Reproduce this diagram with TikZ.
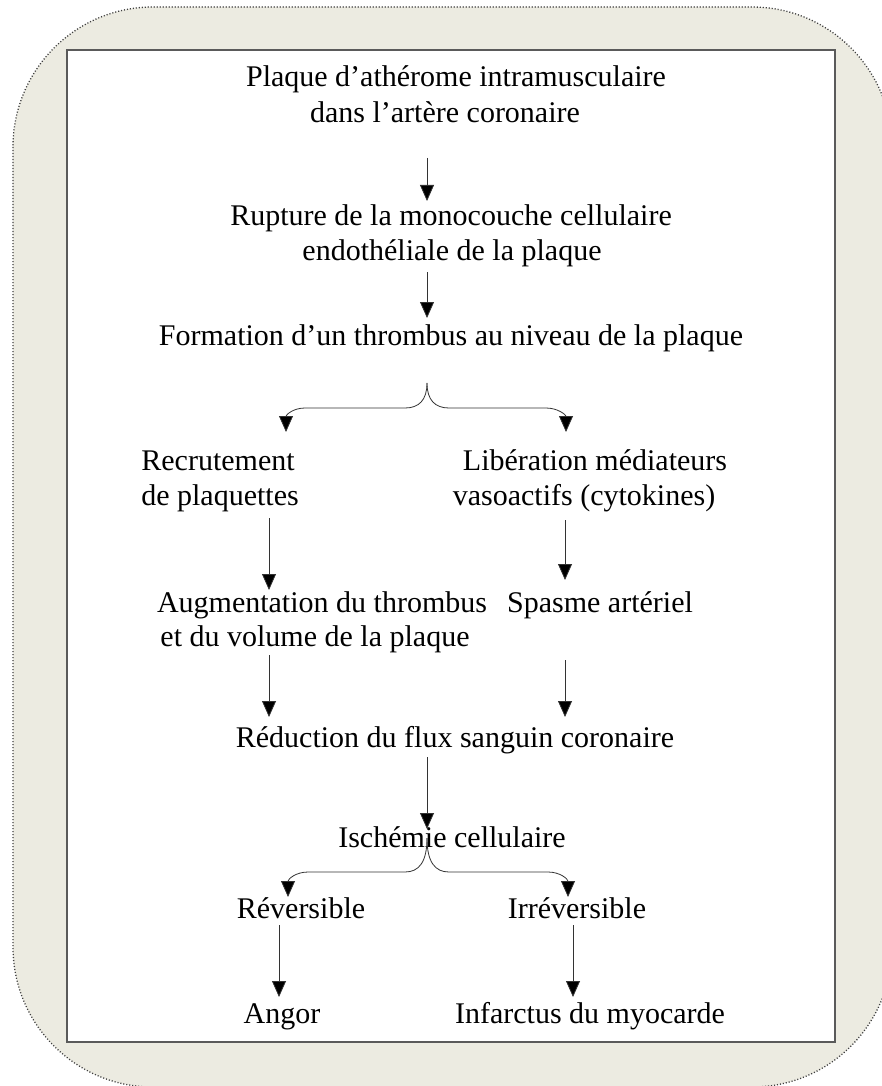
\documentclass[tikz,border=0pt]{standalone}
\usepackage{fontspec}
\setmainfont{Liberation Serif}
\usetikzlibrary{arrows.meta}
\definecolor{panel}{HTML}{ECEBE1}
\definecolor{framegray}{HTML}{5A5A5A}
\begin{document}
\begin{tikzpicture}[x=1pt,y=-1pt,
  txt/.style={anchor=base,inner sep=0pt,font=\fontsize{30}{35.5}\selectfont},
  arr/.style={draw=black!80,line width=0.8pt,-{Triangle[width=14pt,length=16pt,fill=black]}}]
\useasboundingbox (0,0) rectangle (882,1086);
% outer panel and inner frame
\begin{scope}
\clip (0,0) rectangle (882,1086);
\draw[fill=panel,draw=black!75,line width=1.3pt,dash pattern=on 1.1pt off 1.9pt,rounded corners=140pt]
  (13,7) rectangle (892,1087);
\end{scope}
\draw[fill=white,draw=framegray,line width=1.8pt] (67,50) rectangle (835,1042);

% text lines
\node[txt] (plaqueA) at (456,87) {Plaque d’athérome intramusculaire};
\node[txt] (plaqueB) at (445,123) {dans l’artère coronaire};
\node[txt] (ruptA) at (451,225) {Rupture de la monocouche cellulaire};
\node[txt] (ruptB) at (452,260) {endothéliale de la plaque};
\node[txt] (form) at (451,345) {Formation d’un thrombus au niveau de la plaque};
\node[txt] (recA) at (218,470) {Recrutement};
\node[txt] (recB) at (220,505) {de plaquettes};
\node[txt] (libA) at (595,470) {Libération médiateurs};
\node[txt] (libB) at (584,505) {vasoactifs (cytokines)};
\node[txt] (augA) at (322,612) {Augmentation du thrombus};
\node[txt] (augB) at (315,646) {et du volume de la plaque};
\node[txt] (spasme) at (600,612) {Spasme artériel};
\node[txt] (reduc) at (455,747) {Réduction du flux sanguin coronaire};
\node[txt] (isch) at (452,847) {Ischémie cellulaire};
\node[txt] (rev) at (301,918) {Réversible};
\node[txt] (irr) at (577,918) {Irréversible};
\node[txt] (angor) at (282,1023) {Angor};
\node[txt] (infarct) at (590,1023) {Infarctus du myocarde};

% connector ends
\coordinate (p1s) at (427,158); \coordinate (p1e) at (427,201);
\coordinate (p2s) at (427,272); \coordinate (p2e) at (427,318);
\coordinate (b1) at (427,383);
\coordinate (b1l) at (286,432); \coordinate (b1r) at (566,432);
\coordinate (p3s) at (269,518); \coordinate (p3e) at (269,590);
\coordinate (p4s) at (565,520); \coordinate (p4e) at (565,580);
\coordinate (p5s) at (269,655); \coordinate (p5e) at (269,717);
\coordinate (p6s) at (565,660); \coordinate (p6e) at (565,717);
\coordinate (p7s) at (427,757); \coordinate (p7e) at (427,829);
\coordinate (b2) at (427,838);
\coordinate (b2l) at (288,897); \coordinate (b2r) at (568,897);
\coordinate (p8s) at (279,925); \coordinate (p8e) at (279,997);
\coordinate (p9s) at (573,925); \coordinate (p9e) at (573,997);

% straight links
\draw[arr] (p1s) -- (p1e);
\draw[arr] (p2s) -- (p2e);
\draw[arr] (p3s) -- (p3e);
\draw[arr] (p4s) -- (p4e);
\draw[arr] (p5s) -- (p5e);
\draw[arr] (p6s) -- (p6e);
\draw[arr] (p7s) -- (p7e);
\draw[arr] (p8s) -- (p8e);
\draw[arr] (p9s) -- (p9e);

% forks
\draw[arr] (b1) .. controls (427,400) and (419,408) .. (405,408) -- (305,408)
  .. controls (293,408) and (286,415) .. (b1l);
\draw[arr] (b1) .. controls (427,400) and (435,408) .. (449,408) -- (546,408)
  .. controls (558,408) and (566,415) .. (b1r);
\draw[arr] (b2) .. controls (427,862) and (419,872) .. (405,872) -- (308,872)
  .. controls (296,872) and (288,879) .. (b2l);
\draw[arr] (b2) .. controls (427,862) and (435,872) .. (449,872) -- (548,872)
  .. controls (560,872) and (568,879) .. (b2r);
\end{tikzpicture}
\end{document}
